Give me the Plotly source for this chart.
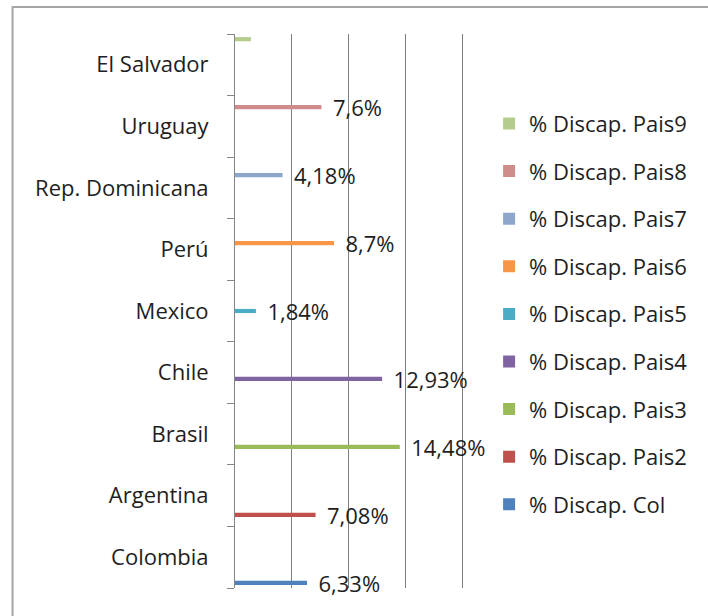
import plotly.graph_objects as go

# Countries, bottom to top on the category axis
countries = ["Colombia", "Argentina", "Brasil", "Chile", "Mexico",
             "Perú", "Rep. Dominicana", "Uruguay", "El Salvador"]

# One series per country, each holding that country's disability rate (%)
series_names = ["% Discap. Col", "% Discap. Pais2", "% Discap. Pais3",
                "% Discap. Pais4", "% Discap. Pais5", "% Discap. Pais6",
                "% Discap. Pais7", "% Discap. Pais8", "% Discap. Pais9"]
values = [6.33, 7.08, 14.48, 12.93, 1.84, 8.7, 4.18, 7.6, 1.4]
value_labels = ["6,33%", "7,08%", "14,48%", "12,93%", "1,84%",
                "8,7%", "4,18%", "7,6%", ""]

colors = ["#4F81BD", "#C0504D", "#9BBB59", "#8064A2", "#4BACC6",
          "#F79646", "#8FA6CB", "#D08C8B", "#B5CD8C"]

FONT = "Open Sans"
PAD = "\u00a0\u00a0"
n = len(series_names)

fig = go.Figure()
for i, (name, country, val, lab, col) in enumerate(
        zip(series_names, countries, values, value_labels, colors)):
    fig.add_trace(go.Bar(
        name=name,
        legendgroup=name,
        legendrank=n - i,
        alignmentgroup="all",
        offsetgroup=name,
        y=[country],
        x=[val],
        orientation="h",
        marker=dict(color=col, line=dict(width=0)),
        text=[PAD + lab if lab else ""],
        textposition="outside",
        constraintext="none",
        cliponaxis=False,
        textfont=dict(family=FONT, size=22, color="#1e1e1e"),
        hoverinfo="skip",
    ))

fig.update_layout(
    width=708, height=616,
    margin=dict(l=235, r=242, t=34, b=28),
    paper_bgcolor="white", plot_bgcolor="white",
    font=dict(family=FONT, size=22, color="#1e1e1e"),
    barmode="group",
    bargap=0.065,
    bargroupgap=0.35,
    legend=dict(
        traceorder="grouped",
        tracegroupgap=16,
        x=1.10, xanchor="left",
        y=0.876, yanchor="top",
        font=dict(family=FONT, size=22, color="#1e1e1e"),
        bgcolor="rgba(0,0,0,0)",
    ),
    xaxis=dict(
        range=[0, 20.3], dtick=5, tick0=0,
        showgrid=True, gridcolor="#7f7f7f", gridwidth=1,
        showticklabels=False, zeroline=False, showline=False, ticks="",
    ),
    yaxis=dict(
        type="category", categoryorder="array", categoryarray=countries,
        showline=True, linecolor="#868686", linewidth=1,
        ticks="outside", ticklen=7, tickcolor="#868686",
        tickson="boundaries", showgrid=False,
        ticklabelstandoff=21,
    ),
    shapes=[dict(
        type="rect", xref="paper", yref="paper",
        x0=-0.963, x1=2.5, y0=-0.3, y1=1.0487,
        line=dict(color="#a6a6a6", width=2), layer="above",
    )],
)

fig.write_html("out.html")
